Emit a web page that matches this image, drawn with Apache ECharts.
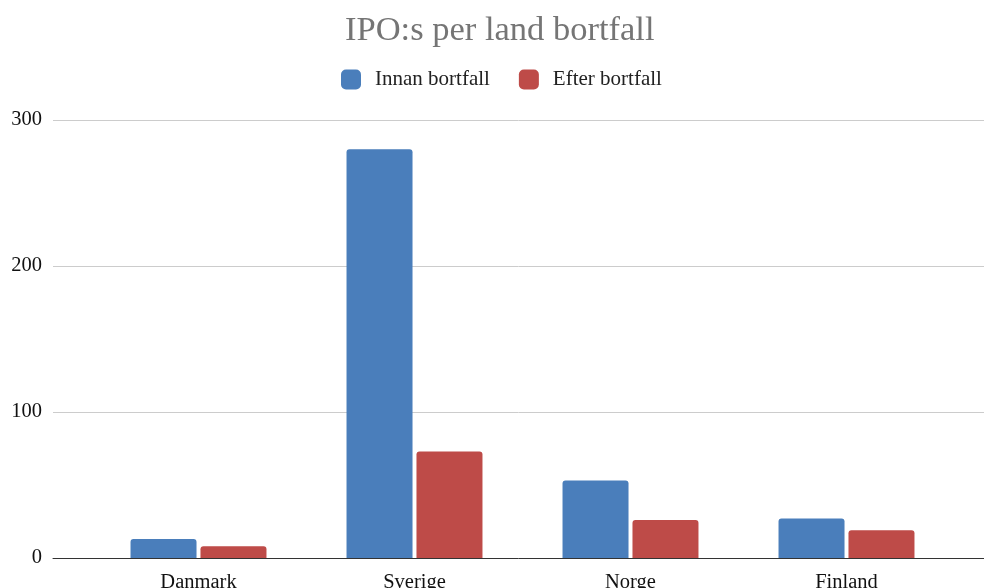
<!DOCTYPE html>
<html>
<head>
<meta charset="utf-8">
<script src="https://cdn.jsdelivr.net/npm/echarts@6/dist/echarts.min.js"></script>
<style>
  html, body { margin: 0; padding: 0; background: #fff; }
  #chart { width: 984px; height: 588px; }
</style>
</head>
<body>
<div id="chart"></div>
<script>
// IPO counts per country, before and after the delisting rule
const countries = ['Danmark', 'Sverige', 'Norge', 'Finland'];
const innanBortfall = [13, 280, 53, 27];
const efterBortfall = [8, 73, 26, 19];
const yTicks = [0, 100, 200, 300];

const serif = '"Liberation Serif", "DejaVu Serif", serif';
const chart = echarts.init(document.getElementById('chart'));

chart.setOption({
  backgroundColor: '#ffffff',
  animation: false,
  title: {
    text: 'IPO:s per land bortfall',
    left: 340,
    top: 8,
    textStyle: { fontFamily: serif, fontSize: 34.5, fontWeight: 'normal', color: '#757575' }
  },
  legend: {
    top: 64,
    left: 336,
    icon: 'roundRect',
    itemWidth: 20,
    itemHeight: 20,
    itemGap: 29,
    textStyle: { fontFamily: serif, fontSize: 21, color: '#222', padding: [0, 0, 0, 9] },
    data: ['Innan bortfall', 'Efter bortfall']
  },
  grid: [
    // bars
    { left: 90.5, right: 29.5, top: 120, bottom: 30, outerBoundsMode: 'none', containLabel: false },
    // full-width gridlines and baseline
    { left: 53, right: 0, top: 120, bottom: 30, outerBoundsMode: 'none', containLabel: false }
  ],
  xAxis: [
    {
      type: 'category',
      gridIndex: 0,
      data: countries,
      axisLine: { show: false },
      axisTick: { show: false },
      axisLabel: { fontFamily: serif, fontSize: 20.5, color: '#111', margin: 14 }
    },
    {
      type: 'value',
      gridIndex: 1,
      min: 0, max: 1,
      axisLine: { show: true, onZero: false, lineStyle: { color: '#333', width: 1 } },
      axisTick: { show: false },
      axisLabel: { show: false },
      splitLine: { show: false }
    }
  ],
  yAxis: [
    {
      type: 'value',
      gridIndex: 0,
      min: yTicks[0], max: yTicks[yTicks.length - 1], interval: 100,
      show: false
    },
    {
      type: 'value',
      gridIndex: 1,
      min: yTicks[0], max: yTicks[yTicks.length - 1], interval: 100,
      axisLine: { show: false },
      axisTick: { show: false },
      axisLabel: { fontFamily: serif, fontSize: 20.5, color: '#111', margin: 11 },
      splitLine: { show: true, lineStyle: { color: '#cccccc', width: 1 } }
    }
  ],
  series: [
    {
      name: 'Innan bortfall',
      type: 'bar',
      xAxisIndex: 0,
      yAxisIndex: 0,
      data: innanBortfall,
      barWidth: 66,
      barGap: '6%',
      itemStyle: { color: '#4a7ebb', borderRadius: [3, 3, 0, 0] }
    },
    {
      name: 'Efter bortfall',
      type: 'bar',
      xAxisIndex: 0,
      yAxisIndex: 0,
      data: efterBortfall,
      barWidth: 66,
      barGap: '6%',
      itemStyle: { color: '#be4b48', borderRadius: [3, 3, 0, 0] }
    }
  ]
});
</script>
</body>
</html>
